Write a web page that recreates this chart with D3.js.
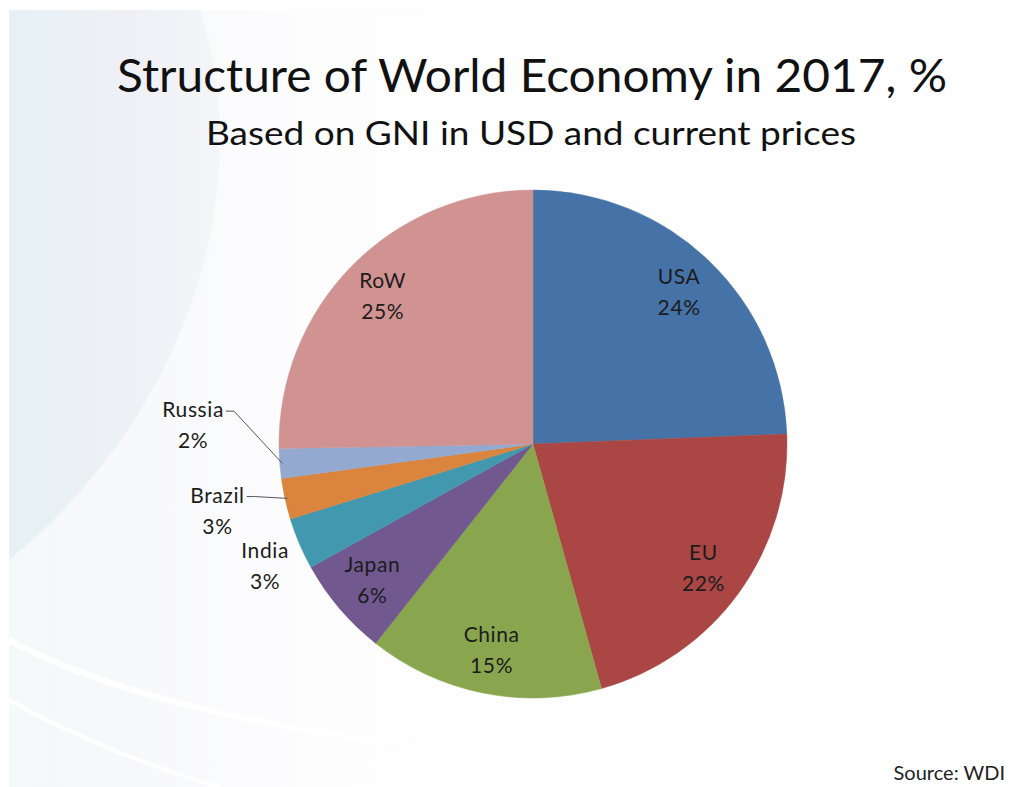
<!DOCTYPE html>
<html>
<head>
<meta charset="utf-8">
<script src="https://cdn.jsdelivr.net/npm/d3@7"></script>
<style>
  html, body { margin: 0; padding: 0; background: #ffffff; }
  svg { display: block; }
  text { font-family: Lato, "Open Sans", sans-serif; }
</style>
</head>
<body>
<svg id="chart" width="1028" height="787"></svg>
<script>
// ---- data ----
const categories = ["USA", "EU", "China", "Japan", "India", "Brazil", "Russia", "RoW"];
const shares = [24.4, 21.3, 15.0, 6.3, 3.3, 2.6, 1.9, 25.3];
const labelTexts = ["24%", "22%", "15%", "6%", "3%", "3%", "2%", "25%"];
const colors = ["#4572a7", "#aa4643", "#89a54e", "#71588f", "#4198af", "#db843d", "#93a9cf", "#d19392"];

const titleText = "Structure of World Economy in 2017, %";
const subtitleText = "Based on GNI in USD and current prices";
const sourceText = "Source: WDI";

// ---- layout ----
const W = 1028, H = 787;
const cx = 533, cy = 444, R = 254;
// outside label placement (radius multiples, extra angle offset in degrees)
const outside = {
  India:  { r: 1.16, da: -1.5, leader: false },
  Brazil: { r: 1.27, da: 0.5, leader: true },
  Russia: { r: 1.34, da: 7.5, leader: true }
};

const svg = d3.select("#chart");

// background
const defs = svg.append("defs");
const g1 = defs.append("linearGradient").attr("id", "bg").attr("x1", "0").attr("y1", "0").attr("x2", "1").attr("y2", "0");
g1.append("stop").attr("offset", "0").attr("stop-color", "#e6f1f3");
g1.append("stop").attr("offset", "0.12").attr("stop-color", "#eff0f5");
g1.append("stop").attr("offset", "0.3").attr("stop-color", "#fbfbfd");
g1.append("stop").attr("offset", "1").attr("stop-color", "#ffffff");
svg.append("rect").attr("x", 0).attr("y", 0).attr("width", W).attr("height", H).attr("fill", "#ffffff");
svg.append("rect").attr("x", 9).attr("y", 10).attr("width", W - 9).attr("height", H - 10).attr("fill", "url(#bg)");
// soft white swoosh shapes
svg.append("path")
  .attr("d", "M200,10 C260,200 180,420 9,560 L9,787 L1028,787 L1028,10 Z")
  .attr("fill", "#ffffff").attr("opacity", 0.55);
svg.append("path")
  .attr("d", "M9,640 C120,700 300,740 560,760")
  .attr("fill", "none").attr("stroke", "#ffffff").attr("stroke-width", 6).attr("opacity", 0.9);
svg.append("path")
  .attr("d", "M9,700 C80,740 160,770 220,787")
  .attr("fill", "none").attr("stroke", "#ffffff").attr("stroke-width", 4).attr("opacity", 0.9);

// titles
svg.append("text").attr("x", 532).attr("y", 92).attr("text-anchor", "middle")
  .attr("font-size", 46).attr("fill", "#111")
  .attr("textLength", 830).attr("lengthAdjust", "spacingAndGlyphs")
  .text(titleText);
svg.append("text").attr("x", 531).attr("y", 145).attr("text-anchor", "middle")
  .attr("font-size", 33).attr("fill", "#111")
  .attr("textLength", 650).attr("lengthAdjust", "spacingAndGlyphs")
  .text(subtitleText);
svg.append("text").attr("x", 1005).attr("y", 780).attr("text-anchor", "end")
  .attr("font-size", 20).attr("fill", "#222")
  .text(sourceText);

// pie
const data = categories.map((c, i) => ({ name: c, value: shares[i], label: labelTexts[i], color: colors[i] }));
const pie = d3.pie().value(d => d.value).sort(null);
const arcs = pie(data);
const arc = d3.arc().innerRadius(0).outerRadius(R);
const g = svg.append("g").attr("transform", `translate(${cx},${cy})`);

g.selectAll("path.slice").data(arcs).join("path")
  .attr("class", "slice")
  .attr("d", arc)
  .attr("fill", d => d.data.color)
  .attr("stroke", d => d.data.color)
  .attr("stroke-width", 0.5);

const lineH = 31;
const inner = d3.arc().innerRadius(R * 0.83).outerRadius(R * 0.83);

arcs.forEach(d => {
  const o = outside[d.data.name];
  let x, y;
  if (!o) {
    [x, y] = inner.centroid(d);
  } else {
    const a = (d.startAngle + d.endAngle) / 2 + o.da * Math.PI / 180;
    x = Math.sin(a) * R * o.r;
    y = -Math.cos(a) * R * o.r;
  }
  const t = g.append("text").attr("text-anchor", "middle").attr("font-size", 21)
    .attr("letter-spacing", 0.6).attr("fill", "#1c1c1c");
  t.append("tspan").attr("x", x).attr("y", y - lineH / 2 + 7).text(d.data.name);
  t.append("tspan").attr("x", x).attr("y", y + lineH / 2 + 7).text(d.data.label);

  if (o && o.leader) {
    const a0 = (d.startAngle + d.endAngle) / 2;
    const ex = Math.sin(a0) * R * 0.99, ey = -Math.cos(a0) * R * 0.99;
    const node = t.select("tspan").node();
    const w = node.getComputedTextLength();
    const sx = x + w / 2 + 2, sy = y - lineH / 2 + 1;
    const pts = [[sx, sy], [sx + 8, sy], [ex, ey]];
    g.append("path").attr("d", d3.line()(pts)).attr("fill", "none")
      .attr("stroke", "#555").attr("stroke-width", 1);
  }
});
</script>
</body>
</html>
